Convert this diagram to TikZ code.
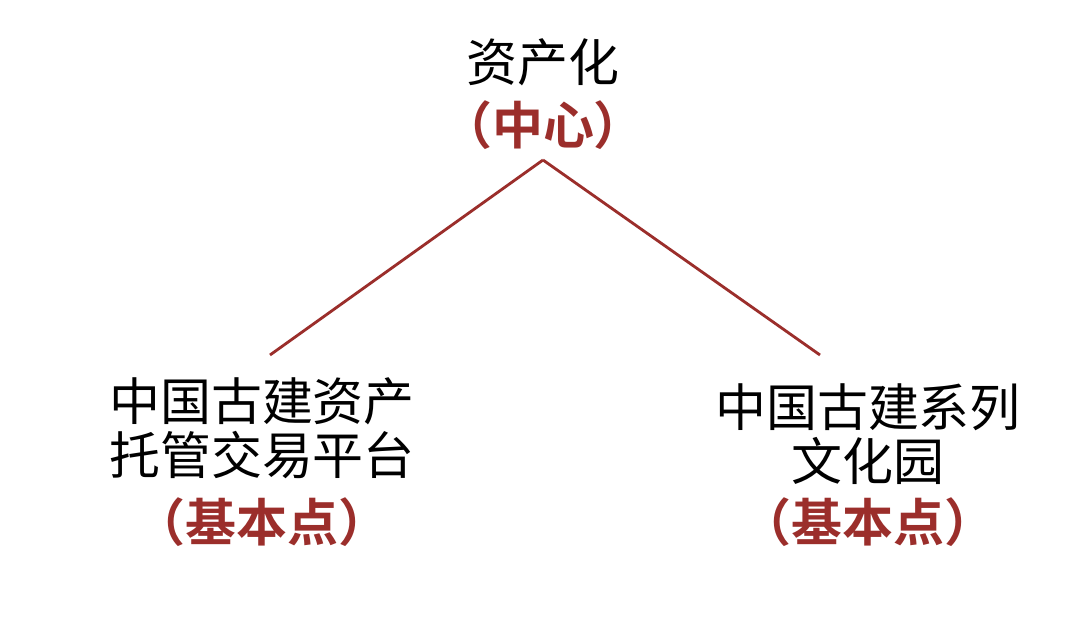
\documentclass[tikz,border=0pt]{standalone}
\usepackage{fontspec}
\newfontfamily\cjk{Noto Sans CJK SC}[BoldFont={Noto Sans CJK SC Bold}]
\definecolor{darkred}{HTML}{9B2E2B}
\tikzset{
  label/.style={font=\cjk\fontsize{14.5pt}{15.5pt}\selectfont, align=center, text=black},
  role/.style={font=\cjk\bfseries\fontsize{14.5pt}{15.5pt}\selectfont, text=darkred},
  link/.style={darkred, thick}
}
\begin{document}
\begin{tikzpicture}
    \useasboundingbox[fill=white] (0,0) rectangle (10.8,6.2);

    % top
    \node[label] (top) at (5.43,5.58) {资产化};
    \node[role] (topr) at (5.43,4.95) {（中心）};

    % bottom nodes
    \node[label] (left) at (2.62,1.92) {中国古建资产\\托管交易平台};
    \node[role] (leftr) at (2.62,0.98) {（基本点）};
    \node[label] (right) at (8.68,1.86) {中国古建系列\\文化园};
    \node[role] (rightr) at (8.68,0.98) {（基本点）};

    % connectors
    \coordinate (apex) at (5.43,4.6);
    \coordinate (lend) at (2.70,2.65);
    \coordinate (rend) at (8.20,2.65);
    \draw[link] (apex) -- (lend);
    \draw[link] (apex) -- (rend);
\end{tikzpicture}
\end{document}
